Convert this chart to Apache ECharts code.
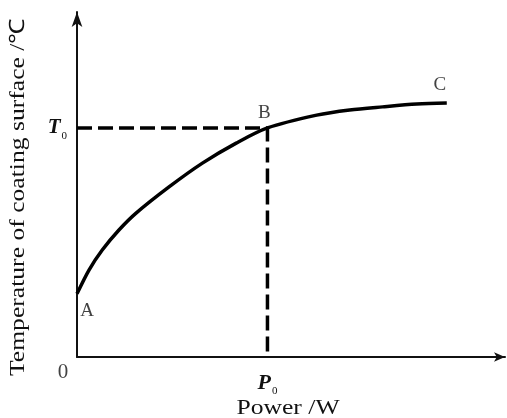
<!DOCTYPE html>
<html>
<head>
<meta charset="utf-8">
<style>
  html, body { margin: 0; padding: 0; background: #fff; }
  #chart { width: 507px; height: 418px; }
</style>
<script src="https://cdn.jsdelivr.net/npm/echarts@6/dist/echarts.min.js"></script>
</head>
<body>
<div id="chart"></div>
<script>
// 曲线 A -> B -> C (读图估计, 坐标为 0~100 的相对单位)
var powerX = [0, 2.8, 5.9, 9.8, 13.8, 21.5, 29.3, 37.2, 44.5, 56.0, 63.7, 71.4, 79.4, 86.4];
var tempY = [18.3, 25.2, 31.0, 36.8, 41.7, 49.3, 56.2, 62.0, 66.4, 70.1, 71.6, 72.5, 73.3, 73.6];
// 关键点
var P0 = 44.5;
var T0 = 66.4;
var pointNames = ["A", "B", "C"];
var pointIdx = [0, 8, 13];
var xTitle = "Power /W";
var yTitle = "Temperature of coating surface /\u2103";

(function () {
  var myChart = echarts.init(document.getElementById("chart"));
  var serif = "'Liberation Serif', 'Times New Roman', serif";

  var curve = powerX.map(function (x, i) {
    return [x, tempY[i]];
  });
  var guide = [[0, T0], [P0, T0], [P0, 0]];
  // 字母标注的偏移
  var labelOffset = [[10, 17], [-3, -15], [-7, -18]];
  var letters = pointIdx.map(function (k, i) {
    return {
      value: curve[k],
      label: { formatter: pointNames[i], offset: labelOffset[i] }
    };
  });

  var option = {
    animation: false,
    grid: {
      left: 77,
      right: 2,
      top: 12,
      bottom: 61
    },
    // 坐标轴标题(原图文字横向略拉宽)
    graphic: [
      {
        type: "text",
        x: 18,
        y: 197,
        rotation: Math.PI / 2,
        scaleX: 1.22,
        style: {
          text: yTitle,
          font: "21px " + serif,
          fill: "#111",
          align: "center",
          verticalAlign: "middle"
        }
      },
      {
        type: "text",
        x: 288,
        y: 408,
        scaleX: 1.22,
        style: {
          text: xTitle,
          font: "21px " + serif,
          fill: "#111",
          align: "center",
          verticalAlign: "middle"
        }
      }
    ],
    xAxis: {
      type: "value",
      min: 0,
      max: 100,
      splitLine: { show: false },
      axisTick: { show: false },
      axisLine: {
        symbol: ["none", "arrow"],
        symbolSize: [7, 11],
        lineStyle: { color: "#111", width: 2 }
      },
      axisLabel: {
        customValues: [P0],
        margin: 13,
        formatter: function () {
          return "{i|P}{s|0}";
        },
        rich: {
          i: { fontFamily: serif, fontSize: 22, fontStyle: "italic", fontWeight: "bold", color: "#111" },
          s: { fontFamily: serif, fontSize: 11, color: "#111", padding: [16, 0, 0, 1] }
        }
      }
    },
    yAxis: {
      type: "value",
      min: 0,
      max: 100,
      splitLine: { show: false },
      axisTick: { show: false },
      axisLine: {
        symbol: ["none", "arrow"],
        symbolSize: [8, 15],
        lineStyle: { color: "#111", width: 2 }
      },
      axisLabel: {
        customValues: [T0],
        margin: 10,
        formatter: function () {
          return "{i|T}{s|0}";
        },
        rich: {
          i: { fontFamily: serif, fontSize: 21, fontStyle: "italic", fontWeight: "bold", color: "#111" },
          s: { fontFamily: serif, fontSize: 11, color: "#111", padding: [16, 0, 0, 1] }
        }
      }
    },
    series: [
      {
        name: "curve",
        type: "line",
        data: curve,
        smooth: 0.3,
        showSymbol: false,
        lineStyle: { color: "#000", width: 3.5 }
      },
      {
        name: "guide",
        type: "line",
        data: guide,
        showSymbol: false,
        z: 1,
        lineStyle: { color: "#000", width: 3.5, type: [15, 6] }
      },
      {
        name: "letters",
        type: "scatter",
        data: letters,
        symbolSize: 0,
        label: {
          show: true,
          position: "inside",
          fontFamily: serif,
          fontSize: 19,
          color: "#111"
        }
      },
      {
        name: "origin",
        type: "scatter",
        data: [[0, 0]],
        symbolSize: 0,
        label: {
          show: true,
          formatter: "0",
          position: "inside",
          offset: [-14, 15],
          fontFamily: serif,
          fontSize: 21,
          color: "#111"
        }
      }
    ]
  };

  myChart.setOption(option);
  window.addEventListener("resize", function () {
    myChart.resize();
  });
})();
</script>
</body>
</html>
